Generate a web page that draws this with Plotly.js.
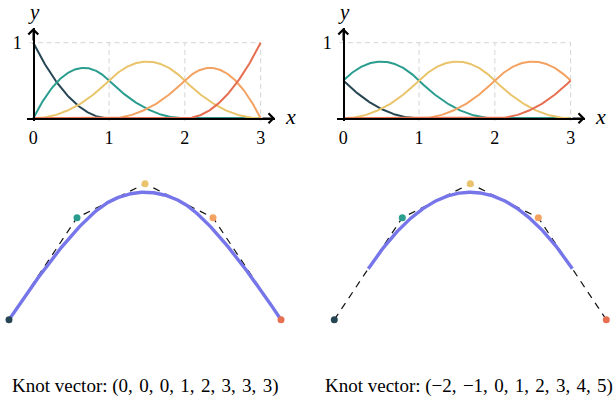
<!DOCTYPE html>
<html><head><meta charset="utf-8">
<script src="https://cdn.plot.ly/plotly-3.0.1.min.js"></script>
<style>html,body{margin:0;padding:0;background:#fff}#chart{width:616px;height:406px}</style>
</head><body><div id="chart"></div>
<script>
// ---- data ----
const knotsLeft = [0, 0, 0, 1, 2, 3, 3, 3];
const knotsRight = [-2, -1, 0, 1, 2, 3, 4, 5];
const degree = 2;
const ctrlX = [0, 1, 2, 3, 4];
const ctrlY = [0, 1.5, 2, 1.5, 0];
const paramStart = 0;
const paramEnd = 3;
const basisColors = ['#264653', '#2a9d8f', '#e9c46a', '#f4a261', '#e76f51'];
const curveColor = '#7676ea';
const xTickVals = [0, 1, 2, 3];
const xTickText = ['0', '1', '2', '3'];
const yTickVals = [1];
const yTickText = ['1'];

// ---- B-spline evaluation (Cox–de Boor) ----
function basis(i, p, t, U) {
  if (p === 0) return (t >= U[i] && t < U[i + 1]) ? 1 : 0;
  let a = 0, b = 0;
  const d1 = U[i + p] - U[i], d2 = U[i + p + 1] - U[i + 1];
  if (d1 > 0) a = (t - U[i]) / d1 * basis(i, p - 1, t, U);
  if (d2 > 0) b = (U[i + p + 1] - t) / d2 * basis(i + 1, p - 1, t, U);
  return a + b;
}
const N = 300;
const ts = [];
for (let k = 0; k <= N; k++) {
  let t = paramStart + (paramEnd - paramStart) * k / N;
  if (k === N) t -= 1e-9;
  ts.push(t);
}

const FONT = 'Liberation Serif, Times New Roman, serif';
const traces = [];
const panels = [
  {U: knotsLeft, xa: 'x', ya: 'y', xb: 'x3', yb: 'y3'},
  {U: knotsRight, xa: 'x2', ya: 'y2', xb: 'x4', yb: 'y4'}
];
panels.forEach(pn => {
  const nb = pn.U.length - degree - 1;
  for (let i = 0; i < nb; i++) {
    traces.push({
      type: 'scatter', mode: 'lines', xaxis: pn.xa, yaxis: pn.ya,
      x: ts, y: ts.map(t => basis(i, degree, t, pn.U)),
      line: {color: basisColors[i], width: 2}, hoverinfo: 'skip'
    });
  }
  traces.push({
    type: 'scatter', mode: 'lines', xaxis: pn.xb, yaxis: pn.yb,
    x: ctrlX, y: ctrlY, line: {color: '#111', width: 1.2, dash: '7px,6px'}, hoverinfo: 'skip'
  });
  const cx = ts.map(t => ctrlX.reduce((s, v, i) => s + v * basis(i, degree, t, pn.U), 0));
  const cy = ts.map(t => ctrlY.reduce((s, v, i) => s + v * basis(i, degree, t, pn.U), 0));
  traces.push({
    type: 'scatter', mode: 'lines', xaxis: pn.xb, yaxis: pn.yb,
    x: cx, y: cy, line: {color: curveColor, width: 3.4}, hoverinfo: 'skip'
  });
  traces.push({
    type: 'scatter', mode: 'markers', xaxis: pn.xb, yaxis: pn.yb,
    x: ctrlX, y: ctrlY, marker: {color: basisColors, size: 7}, cliponaxis: false, hoverinfo: 'skip'
  });
});

// ---- geometry (pixels) ----
const W = 616, H = 406;
const px = v => v / W, py = v => 1 - v / H;
const sx = 75.78, sy = 75.6;
function topAxes(off) {
  const x0 = 33.3 + off, y0 = 118.3;
  const xl = 27 + off, xr = 275 + off, yt = 28, yb = 121;
  return {
    x: {domain: [px(xl), px(xr)], range: [(xl - x0) / sx, (xr - x0) / sx], anchor: 'free', position: py(y0),
        showline: true, linecolor: '#000', linewidth: 1.6, tickvals: xTickVals, ticktext: xTickText, ticks: '',
        ticklabelstandoff: 2,
        tickfont: {family: FONT, size: 18, color: '#000'}, showgrid: false, zeroline: false, fixedrange: true},
    y: {domain: [py(yb), py(yt)], range: [-(yb - y0) / sy, (y0 - yt) / sy], anchor: 'free', position: px(x0),
        showline: true, linecolor: '#000', linewidth: 1.6, tickvals: yTickVals, ticktext: yTickText, ticks: '',
        ticklabelstandoff: 8,
        tickfont: {family: FONT, size: 18, color: '#000'}, showgrid: false, zeroline: false, fixedrange: true},
    xmax: (xr - x0) / sx, ymax: (y0 - yt) / sy
  };
}
const s = 68;
function botAxes(left, right, x0) {
  const yt = 160, yb = 340, y0 = 319.7;
  return {
    x: {domain: [px(left), px(right)], range: [(left - x0) / s, (right - x0) / s], visible: false, fixedrange: true},
    y: {domain: [py(yb), py(yt)], range: [(y0 - yb) / s, (y0 - yt) / s], visible: false, fixedrange: true}
  };
}
const tl = topAxes(0), tr = topAxes(310);
const bl = botAxes(0, 300, 9), br = botAxes(310, 616, 334.3);

const shapes = [];
const annotations = [];
[['x', 'y', tl], ['x2', 'y2', tr]].forEach(([xa, ya, ax]) => {
  xTickVals.filter(v => v > 0).forEach(v => shapes.push({
    type: 'line', xref: xa, yref: ya, x0: v, x1: v, y0: -0.06, y1: yTickVals[0],
    line: {color: '#d4d4d4', width: 1, dash: '5px,3.5px'}, layer: 'below'
  }));
  yTickVals.forEach(v => shapes.push({
    type: 'line', xref: xa, yref: ya, x0: -0.05, x1: xTickVals[xTickVals.length - 1], y0: v, y1: v,
    line: {color: '#d4d4d4', width: 1, dash: '5px,3.5px'}, layer: 'below'
  }));
  annotations.push({xref: xa, yref: ya, x: ax.xmax, y: 0, ax: -14, ay: 0, text: '', showarrow: true,
    arrowhead: 4, arrowwidth: 1.6, arrowsize: 1.2, arrowcolor: '#000'});
  annotations.push({xref: xa, yref: ya, x: 0, y: ax.ymax, ax: 0, ay: 14, text: '', showarrow: true,
    arrowhead: 4, arrowwidth: 1.6, arrowsize: 1.2, arrowcolor: '#000'});
});
function label(txt, x, y, size, anchor) {
  annotations.push({xref: 'paper', yref: 'paper', x: px(x), y: py(y), xanchor: anchor || 'center', yanchor: 'middle',
    text: txt, showarrow: false, font: {family: FONT, size: size, color: '#000'}});
}
label('<i>x</i>', 290, 117, 22);
label('<i>x</i>', 290 + 310, 117, 22);
label('<i>y</i>', 33.5, 12, 21);
label('<i>y</i>', 33.5 + 310, 12, 21);

const fmt = U => 'Knot vector: (' + U.map(v => String(v).replace('-', '\u2212')).join(', \u200a') + ')';
label(fmt(knotsLeft), 10, 386, 19, 'left');
label(fmt(knotsRight), 323, 386, 19, 'left');

const layout = {
  width: W, height: H, margin: {l: 0, r: 0, t: 0, b: 0}, showlegend: false,
  paper_bgcolor: '#fff', plot_bgcolor: 'rgba(0,0,0,0)',
  xaxis: tl.x, yaxis: tl.y, xaxis2: tr.x, yaxis2: tr.y,
  xaxis3: bl.x, yaxis3: bl.y, xaxis4: br.x, yaxis4: br.y,
  shapes: shapes, annotations: annotations
};
Plotly.newPlot('chart', traces, layout, {displayModeBar: false, staticPlot: true});
</script></body></html>
